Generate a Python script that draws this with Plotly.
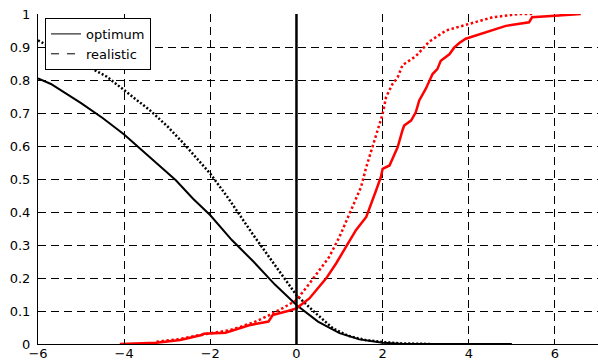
import plotly.graph_objects as go

# Black curves (decreasing)
opt_black_x = [-6, -5.7, -5.0, -4.5, -4.0, -3.4, -2.8, -2.4, -2.0, -1.5, -1.0, -0.5, 0, 0.5, 1.0, 1.46, 2.0, 2.4, 3.0, 4.0, 5.0]
opt_black_y = [0.805, 0.788, 0.73, 0.685, 0.635, 0.566, 0.496, 0.44, 0.39, 0.315, 0.25, 0.18, 0.118, 0.068, 0.033, 0.014, 0.004, 0.001, 0, 0, 0]

real_black_x = [-6, -5.4, -4.9, -4.4, -4.0, -3.4, -3.0, -2.6, -2.0, -1.6, -1.0, -0.5, 0, 0.45, 0.85, 1.2, 1.6, 2.0, 2.4, 3.1]
real_black_y = [0.92, 0.88, 0.845, 0.81, 0.77, 0.708, 0.66, 0.605, 0.516, 0.445, 0.33, 0.24, 0.148, 0.093, 0.047, 0.025, 0.012, 0.006, 0.002, 0]

# Red curves (increasing)
opt_red_x = [-4.1, -3.25, -2.7, -2.4, -2.2, -2.15, -1.65, -1.5, -1.1, -0.65, -0.55, -0.2, 0, 0.3, 0.53, 0.69,
             0.92, 1.15, 1.38, 1.62, 1.77, 1.85, 1.96, 2.0, 2.16, 2.23, 2.35, 2.46, 2.5, 2.66, 2.77, 2.85,
             3.0, 3.16, 3.27, 3.35, 3.55, 3.66, 3.78, 3.93, 4.4, 4.86, 5.4, 5.47, 6.0, 6.6]
opt_red_y = [0, 0.004, 0.012, 0.02, 0.027, 0.031, 0.034, 0.04, 0.057, 0.068, 0.088, 0.1, 0.108, 0.138, 0.173, 0.199,
             0.244, 0.294, 0.345, 0.385, 0.435, 0.466, 0.506, 0.531, 0.541, 0.561, 0.597, 0.647, 0.662, 0.677, 0.702, 0.738,
             0.773, 0.818, 0.833, 0.858, 0.878, 0.898, 0.912, 0.925, 0.944, 0.964, 0.975, 0.99, 0.995, 1.0]

real_red_x = [-3.25, -2.7, -2.25, -1.55, -1.0, -0.7, -0.3, 0, 0.3, 0.76, 1.0, 1.23, 1.38, 1.5, 1.62, 1.77, 1.88,
              2.0, 2.08, 2.23, 2.35, 2.46, 2.77, 3.08, 3.47, 4.0, 4.55, 5.17, 5.5]
real_red_y = [0.007, 0.015, 0.027, 0.042, 0.065, 0.083, 0.11, 0.133, 0.183, 0.264, 0.325, 0.395, 0.44, 0.476, 0.536,
              0.597, 0.647, 0.697, 0.748, 0.788, 0.808, 0.845, 0.872, 0.916, 0.95, 0.97, 0.99, 1.0, 1.0]

zero_line_x = [0, 0]
zero_line_y = [0, 1]

x_ticks = [-6, -4, -2, 0, 2, 4, 6]
y_ticks = [0, 0.1, 0.2, 0.3, 0.4, 0.5, 0.6, 0.7, 0.8, 0.9, 1]
y_tick_labels = ["0", "0.1", "0.2", "0.3", "0.4", "0.5", "0.6", "0.7", "0.8", "0.9", "1"]

fig = go.Figure()
fig.add_trace(go.Scatter(x=opt_black_x, y=opt_black_y, mode="lines",
                         line=dict(color="black", width=2), showlegend=False))
fig.add_trace(go.Scatter(x=real_black_x, y=real_black_y, mode="lines",
                         line=dict(color="black", width=2.5, dash="2px,2px"), showlegend=False))
fig.add_trace(go.Scatter(x=opt_red_x, y=opt_red_y, mode="lines",
                         line=dict(color="#ff0000", width=2.5), showlegend=False))
fig.add_trace(go.Scatter(x=real_red_x, y=real_red_y, mode="lines",
                         line=dict(color="#ff0000", width=2.5, dash="2.5px,2.5px"), showlegend=False))
fig.add_trace(go.Scatter(x=zero_line_x, y=zero_line_y, mode="lines",
                         line=dict(color="black", width=2.5), showlegend=False))
# legend entries
fig.add_trace(go.Scatter(x=[None], y=[None], mode="lines", name="optimum",
                         line=dict(color="black", width=1)))
fig.add_trace(go.Scatter(x=[None], y=[None], mode="lines", name="realistic",
                         line=dict(color="black", width=1, dash="8px,8px")))

font_family = "DejaVu Sans, Verdana, sans-serif"
axis_font = dict(family=font_family, size=13, color="black")
fig.update_layout(
    width=598, height=361,
    margin=dict(l=38, r=0, t=14, b=17),
    paper_bgcolor="white", plot_bgcolor="white",
    font=axis_font,
    legend=dict(x=0.0125, y=0.988, xanchor="left", yanchor="top",
                bgcolor="white", bordercolor="black", borderwidth=1,
                font=dict(family=font_family, size=13, color="black"),
                tracegroupgap=0),
)
fig.update_xaxes(range=[-6, 7], tickvals=x_ticks, ticks="inside", ticklen=5, tickcolor="black",
                 showline=True, linecolor="black", linewidth=1, mirror=False,
                 showgrid=True, gridcolor="black", gridwidth=1, griddash="8px,5px",
                 zeroline=False, automargin=False, tickfont=axis_font, ticklabelstandoff=-3)
fig.update_yaxes(range=[0, 1], tickvals=y_ticks, ticktext=y_tick_labels, ticks="inside", ticklen=5,
                 tickcolor="black",
                 showline=True, linecolor="black", linewidth=1, mirror=False,
                 showgrid=True, gridcolor="black", gridwidth=1, griddash="8px,5px",
                 zeroline=False, automargin=False, tickfont=axis_font, ticklabelstandoff=4)

fig.write_html("out.html", config={"displayModeBar": False},
               post_script="document.body.style.margin='0px';document.body.style.overflow='hidden';")
